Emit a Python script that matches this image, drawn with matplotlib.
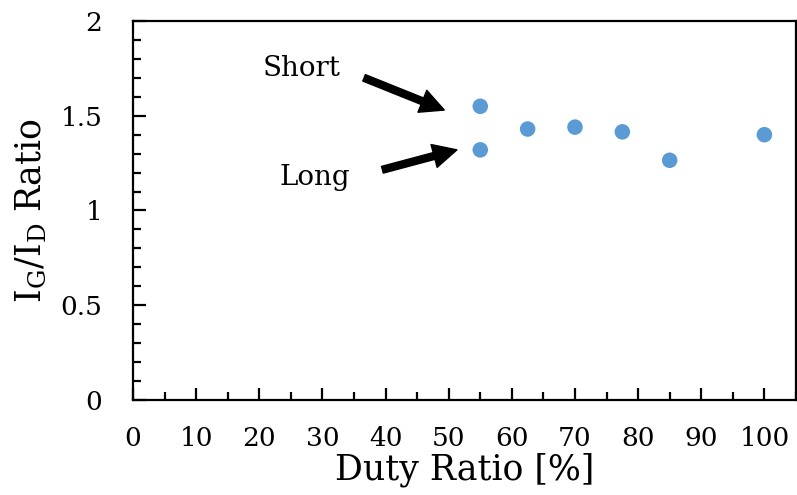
import matplotlib
matplotlib.use("Agg")
import matplotlib.pyplot as plt
from matplotlib.ticker import MultipleLocator, FuncFormatter

# duty ratio sweep, I_G/I_D ratio from Raman spectra
duty_ratio = [55, 55, 62.5, 70, 77.5, 85, 100]
ig_id_ratio = [1.55, 1.32, 1.43, 1.44, 1.415, 1.265, 1.40]

# annotation anchors (data coords): label, text position, arrow tail, arrow head
notes = [
    ("Short", (26.7, 1.75), (36.6, 1.70), (49.3, 1.53)),
    ("Long", (28.8, 1.175), (39.5, 1.215), (51.3, 1.32)),
]

plt.rcParams["font.family"] = "DejaVu Serif"
plt.rcParams["mathtext.fontset"] = "dejavuserif"

fig = plt.figure(figsize=(7.97, 4.95), dpi=100)
ax = fig.add_axes([0.1669, 0.1919, 0.8318, 0.7657])

ax.scatter(duty_ratio, ig_id_ratio, s=125, color="#5B9BD5", edgecolors="none", zorder=3)

for label, txt, tail, head in notes:
    ax.text(txt[0], txt[1], label, fontsize=20, ha="center", va="center")
    ax.annotate("", xy=head, xytext=tail,
                arrowprops=dict(facecolor="black", edgecolor="black",
                                width=5, headwidth=17, headlength=17, shrink=0))

ax.set_xlim(0, 105)
ax.set_ylim(0, 2)
ax.xaxis.set_major_locator(MultipleLocator(10))
ax.xaxis.set_minor_locator(MultipleLocator(5))
ax.yaxis.set_major_locator(MultipleLocator(0.5))
ax.yaxis.set_minor_locator(MultipleLocator(0.1))
ax.yaxis.set_major_formatter(FuncFormatter(lambda v, p: f"{v:g}"))
ax.xaxis.set_major_formatter(FuncFormatter(lambda v, p: f"{v:g}" if v <= 100 else ""))

ax.tick_params(which="both", direction="in", width=1.6, labelsize=19)
ax.tick_params(which="major", length=9)
ax.tick_params(which="minor", length=6)
ax.tick_params(axis="x", which="major", pad=19)
ax.tick_params(axis="y", which="major", pad=22)
ax.tick_params(top=False, right=False, which="both")

for sp in ax.spines.values():
    sp.set_linewidth(1.6)

ax.set_xlabel("Duty Ratio [%]", fontsize=25, labelpad=1)
ax.set_ylabel(r"I$_\mathrm{G}$/I$_\mathrm{D}$ Ratio", fontsize=25, labelpad=8)

fig.savefig("out.png", dpi=100)
